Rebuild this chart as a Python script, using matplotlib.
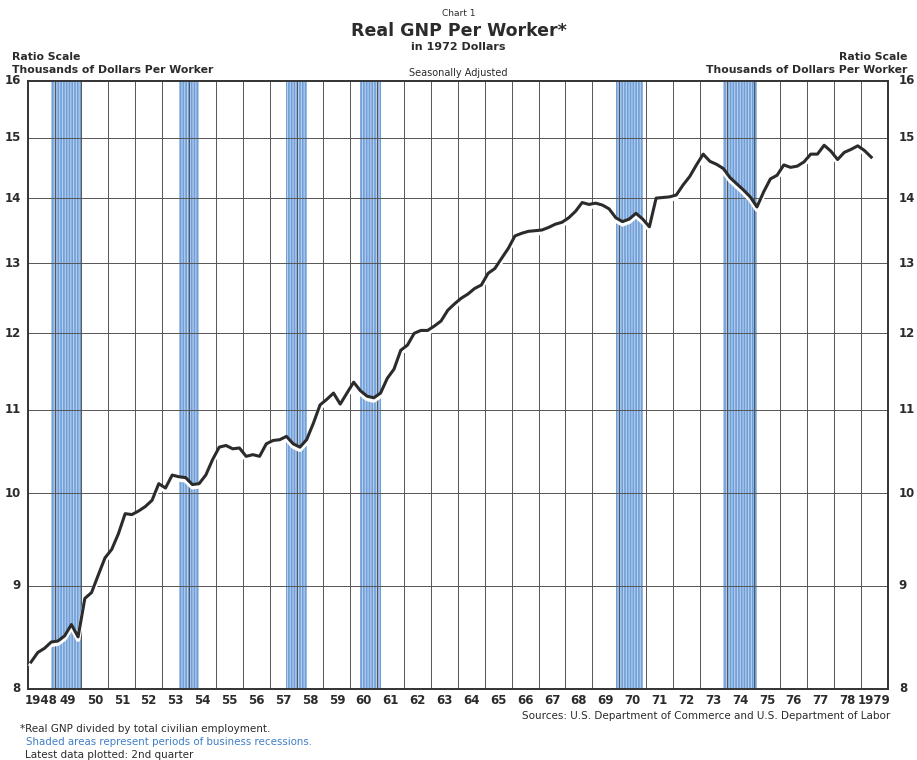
import matplotlib
matplotlib.use("Agg")
import matplotlib.pyplot as plt
import matplotlib.patheffects as pe
import numpy as np

# quarterly real GNP per worker, thousands of 1972 dollars, 1948Q1 - 1979Q2
gnp_per_worker = [
    8.25, 8.34, 8.38, 8.44,      # 1948
    8.45, 8.50, 8.61, 8.49,      # 1949
    8.87, 8.93, 9.11, 9.29,      # 1950
    9.38, 9.55, 9.77, 9.76,      # 1951
    9.80, 9.85, 9.92, 10.11,     # 1952
    10.06, 10.21, 10.19, 10.18,  # 1953
    10.10, 10.11, 10.21, 10.39,  # 1954
    10.54, 10.56, 10.52, 10.53,  # 1955
    10.43, 10.45, 10.43, 10.58,  # 1956
    10.62, 10.63, 10.67, 10.58,  # 1957
    10.54, 10.63, 10.83, 11.06,  # 1958
    11.13, 11.21, 11.07, 11.21,  # 1959
    11.35, 11.24, 11.17, 11.15,  # 1960
    11.21, 11.40, 11.52, 11.77,  # 1961
    11.84, 12.00, 12.04, 12.04,  # 1962
    12.10, 12.17, 12.32, 12.41,  # 1963
    12.49, 12.55, 12.63, 12.68,  # 1964
    12.85, 12.92, 13.07, 13.22,  # 1965
    13.41, 13.45, 13.48, 13.49,  # 1966
    13.50, 13.54, 13.59, 13.62,  # 1967
    13.69, 13.79, 13.93, 13.90,  # 1968
    13.92, 13.89, 13.83, 13.69,  # 1969
    13.63, 13.67, 13.76, 13.67,  # 1970
    13.55, 14.00, 14.01, 14.02,  # 1971
    14.05, 14.21, 14.35, 14.54,  # 1972
    14.72, 14.60, 14.55, 14.48,  # 1973
    14.33, 14.23, 14.13, 14.02,  # 1974
    13.86, 14.10, 14.31, 14.37,  # 1975
    14.54, 14.50, 14.52, 14.59,  # 1976
    14.72, 14.72, 14.87, 14.77,  # 1977
    14.63, 14.75, 14.80, 14.86,  # 1978
    14.78, 14.67,                # 1979
]
first_year = 1948

# recessions (peak quarter midpoint -> trough quarter midpoint)
recessions = [(1948.875, 1950.0), (1953.625, 1954.375), (1957.625, 1958.375),
              (1960.375, 1961.125), (1969.875, 1970.9), (1973.875, 1975.125)]

year_labels = ["1948"] + [str(y)[2:] for y in range(1949, 1979)] + ["1979"]
y_ticks = [8, 9, 10, 11, 12, 13, 14, 15, 16]

dark = "#2b2b2b"
blue = "#6f9fd8"

plt.rcParams["font.family"] = ["DejaVu Sans"]
plt.rcParams["hatch.linewidth"] = 0.8
plt.rcParams["hatch.color"] = "#b9d0ee"

fig = plt.figure(figsize=(9.17, 7.6), dpi=100)
ax = fig.add_axes([27.7 / 917, 71 / 760, (888 - 27.7) / 917, 608 / 760])

t = first_year + 0.125 + 0.25 * np.arange(len(gnp_per_worker))

for a, b in recessions:
    ax.axvspan(a, b, facecolor=blue, edgecolor="#b9d0ee", hatch="||||||", linewidth=0, zorder=1)

ax.plot(t, gnp_per_worker, color=dark, linewidth=2.2, zorder=4,
        path_effects=[pe.Stroke(linewidth=3.2, foreground="white", offset=(0, -2.0)), pe.Normal()])

ax.set_yscale("log")
ax.set_ylim(8, 16)
ax.set_xlim(1948, 1980)

for yr in range(1949, 1980):
    ax.axvline(yr, color="#555555", linewidth=0.7, zorder=2)
for v in y_ticks[1:-1]:
    ax.axhline(v, color="#555555", linewidth=0.7, zorder=2)

for s in ax.spines.values():
    s.set_color("#333333")
    s.set_linewidth(1.4)

ax.set_xticks([])
ax.set_yticks([])
ax.minorticks_off()

for i, lab in enumerate(year_labels):
    ax.text(first_year + i + 0.5, -11 / 608, lab, ha="center", va="center", fontsize=8.5,
            fontweight="bold", color=dark, transform=ax.get_xaxis_transform())

for v in y_ticks:
    ax.text(1947.75, v, str(v), ha="right", va="center", fontsize=8.5, fontweight="bold", color=dark)
    ax.text(1980.4, v, str(v), ha="left", va="center", fontsize=8.5, fontweight="bold", color=dark)

fig.text(0.5, 1 - 14 / 760, "Chart 1", ha="center", va="center", fontsize=6.5, color=dark)
fig.text(0.5, 1 - 31 / 760, "Real GNP Per Worker*", ha="center", va="center", fontsize=12.5,
         fontweight="bold", color=dark)
fig.text(0.5, 1 - 47 / 760, "in 1972 Dollars", ha="center", va="center", fontsize=8,
         fontweight="bold", color=dark)
fig.text(0.5, 1 - 73 / 760, "Seasonally Adjusted", ha="center", va="center", fontsize=7, color=dark)

fig.text(12 / 917, 1 - 57 / 760, "Ratio Scale", ha="left", va="center", fontsize=7.8,
         fontweight="bold", color=dark)
fig.text(12 / 917, 1 - 70 / 760, "Thousands of Dollars Per Worker", ha="left", va="center",
         fontsize=7.8, fontweight="bold", color=dark)
fig.text(907 / 917, 1 - 57 / 760, "Ratio Scale", ha="right", va="center", fontsize=7.8,
         fontweight="bold", color=dark)
fig.text(907 / 917, 1 - 70 / 760, "Thousands of Dollars Per Worker", ha="right", va="center",
         fontsize=7.8, fontweight="bold", color=dark)

fig.text(890 / 917, 1 - 716 / 760, "Sources: U.S. Department of Commerce and U.S. Department of Labor",
         ha="right", va="center", fontsize=7.5, color=dark)
fig.text(20 / 917, 1 - 729 / 760, "*Real GNP divided by total civilian employment.",
         ha="left", va="center", fontsize=7.5, color=dark)
fig.text(26 / 917, 1 - 742 / 760, "Shaded areas represent periods of business recessions.",
         ha="left", va="center", fontsize=7.4, color="#3f7fc8")
fig.text(25 / 917, 1 - 755 / 760, "Latest data plotted: 2nd quarter",
         ha="left", va="center", fontsize=7.5, color=dark)

fig.savefig("out.png", dpi=100)
